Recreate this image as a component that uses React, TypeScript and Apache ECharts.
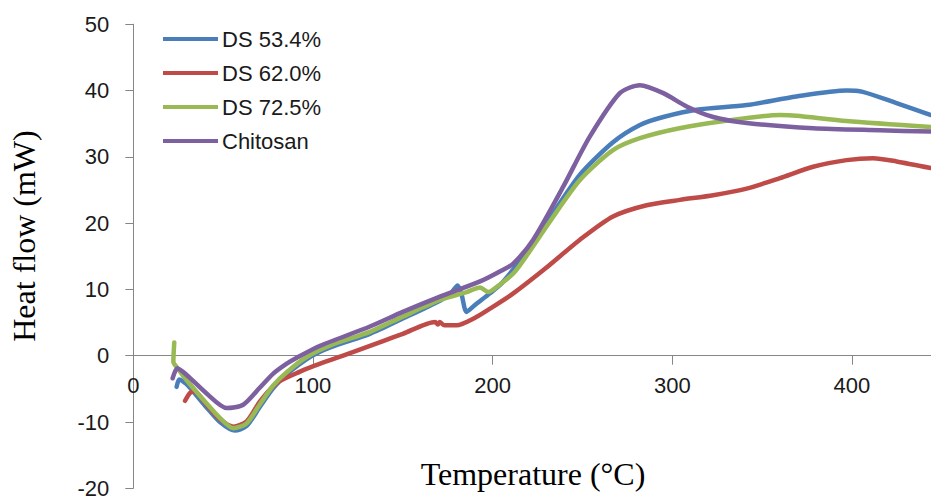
import React, { useEffect, useRef } from "react";
import * as echarts from "echarts";

const seriesNames = ["DS 53.4%", "DS 62.0%", "DS 72.5%", "Chitosan"];
const seriesColors = ["#4A7EBB", "#BE4B48", "#98B954", "#7D60A0"];

const ds534: [number, number][] = [
  [24.1, -4.7], [25.6, -3.6], [29.7, -4.3], [40.8, -7.8], [48.2, -10], [56.6, -11.3],
  [63.1, -10.6], [70.5, -7.7], [77.9, -4.9], [85.4, -2.8], [99, -0.1], [110, 1.3],
  [131.7, 3.3], [150, 5.6], [170.7, 8.3], [177, 9.5], [180.5, 10.6], [182.5, 9.5],
  [185.5, 6.6], [190, 7.6], [198.5, 9.4], [205, 10.9], [211.5, 13.0], [220, 15.8],
  [230, 20], [248.6, 27.3], [267, 32.2], [282, 34.8], [295, 36], [313.5, 37.1],
  [341.4, 37.8], [369, 39.1], [397, 40], [406, 39.8], [424.8, 38.1], [444, 36.3],
];

const ds620: [number, number][] = [
  [28.8, -6.8], [31.6, -5.6], [34, -5.4], [40.8, -7.4], [48.2, -9.6], [55.7, -10.7],
  [63.1, -9.9], [70.5, -6.9], [80, -4.1], [92.8, -2.4], [104, -1.2], [116.8, 0],
  [139, 2.2], [150, 3.3], [168, 5.1], [169.5, 4.7], [170.5, 5.1], [173, 4.6],
  [180, 4.6], [190, 5.7], [198.5, 7.1], [211.5, 9.4], [230, 13.3], [248.6, 17.5],
  [267, 21], [285.7, 22.7], [304.2, 23.5], [322.8, 24.2], [341.4, 25.2], [360, 26.8],
  [378.4, 28.5], [397, 29.5], [411.8, 29.8], [424.8, 29.3], [444, 28.3],
];

const ds725: [number, number][] = [
  [22.8, 2.0], [22.3, -0.9], [24.1, -1.7], [29.7, -3.7], [40.8, -7.2], [48.2, -9.4],
  [55.7, -10.95], [63.1, -10.2], [70.5, -7.3], [77.9, -4.5], [85.4, -2.5], [96.5, -0.2],
  [110, 1.6], [131.7, 3.6], [150, 5.9], [170.7, 8.4], [185.5, 9.6], [193, 10.3],
  [197.5, 9.6], [200, 9.9], [211.5, 12.4], [220, 15.5], [230, 19.5], [248.6, 26.5],
  [267, 31], [282, 32.8], [304, 34.3], [332, 35.5], [360, 36.3], [369, 36.2],
  [397, 35.4], [444, 34.5],
];

const chitosan: [number, number][] = [
  [21.9, -3.4], [24.5, -1.9], [29.7, -2.9], [40.8, -5.7], [52, -7.9], [61.2, -7.4],
  [70.5, -4.8], [77.9, -2.7], [85.4, -1.2], [91, -0.3], [104, 1.5], [131.7, 4.4],
  [150, 6.6], [170.7, 8.9], [193, 11.2], [204, 12.7], [211.5, 13.9], [222.6, 17.5],
  [239.3, 25.5], [254, 33], [270.8, 39.6], [282, 40.8], [295, 39.6], [308, 37.6],
  [322.8, 36], [341.4, 35.1], [378.4, 34.3], [415.5, 34.0], [444, 33.8],
];

const seriesData = [ds534, ds620, ds725, chitosan];

const xMin = 0;
const xMax = 444;
const xInterval = 100;
const yMin = -20;
const yMax = 50;
const yInterval = 10;

const xTitle = "Temperature (°C)";
const yTitle = "Heat flow (mW)";

const gridTop = 24.2;
const gridBottom = 7.7;
const chartHeight = 496;

export default function App() {
  const ref = useRef<HTMLDivElement>(null);

  useEffect(() => {
    if (!ref.current) return;
    const chart = echarts.init(ref.current, undefined, { renderer: "svg" });
    const axisColor = "#868686";
    const labelFont = { fontFamily: "Liberation Sans", fontSize: 22, color: "#1a1a1a" };
    const plotH = chartHeight - gridTop - gridBottom;
    const zeroOffset = -plotH * (0 - yMin) / (yMax - yMin);

    chart.setOption({
      animation: false,
      backgroundColor: "#ffffff",
      grid: {
        left: 133.3,
        right: 0,
        top: gridTop,
        bottom: gridBottom,
        containLabel: false,
        outerBoundsMode: "none",
      },
      legend: {
        data: seriesNames.map((n) => ({ name: n, icon: "rect" })),
        orient: "vertical",
        left: 158,
        top: 23,
        itemWidth: 55,
        itemHeight: 4,
        itemGap: 12,
        textStyle: { ...labelFont, lineHeight: 22, padding: [0, 0, 0, -1] },
      },
      xAxis: {
        type: "value",
        min: xMin,
        max: xMax,
        interval: xInterval,
        position: "bottom",
        offset: zeroOffset,
        axisLine: { onZero: false, lineStyle: { color: axisColor, width: 1 } },
        axisTick: { show: true, inside: false, length: 9, lineStyle: { color: axisColor } },
        axisLabel: { ...labelFont, margin: 19, showMaxLabel: false },
        splitLine: { show: false },
      },
      yAxis: {
        type: "value",
        min: yMin,
        max: yMax,
        interval: yInterval,
        axisLine: { show: true, onZero: false, lineStyle: { color: axisColor, width: 1 } },
        axisTick: { show: true, inside: false, length: 8, lineStyle: { color: axisColor } },
        axisLabel: { ...labelFont, margin: 24 },
        splitLine: { show: false },
      },
      graphic: [
        {
          type: "text",
          x: 24,
          y: 236,
          rotation: Math.PI / 2,
          style: {
            text: yTitle,
            fontFamily: "Liberation Serif",
            fontSize: 32,
            fill: "#000",
            textAlign: "center",
            textVerticalAlign: "middle",
          },
        },
        {
          type: "text",
          x: 533,
          y: 474,
          style: {
            text: xTitle,
            fontFamily: "Liberation Serif",
            fontSize: 32,
            fill: "#000",
            textAlign: "center",
            textVerticalAlign: "middle",
          },
        },
      ],
      series: seriesData.map((d, i) => ({
        name: seriesNames[i],
        type: "line",
        data: d,
        smooth: 0.25,
        symbol: "none",
        showSymbol: false,
        color: seriesColors[i],
        lineStyle: { color: seriesColors[i], width: 4.5, cap: "round", join: "round" },
        z: 2 + i,
      })),
    });

    return () => chart.dispose();
  }, []);

  return (
    <div
      ref={ref}
      style={{ position: "fixed", left: 0, top: 0, width: 931, height: 496, background: "#fff" }}
    />
  );
}
